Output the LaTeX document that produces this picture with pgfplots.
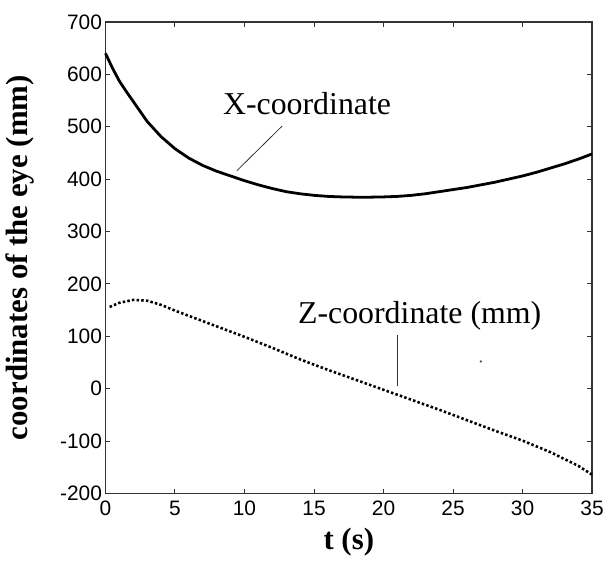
\documentclass[border=0pt]{standalone}
\usepackage{fontspec}
\setmainfont{Liberation Serif}
\newfontfamily\ticksans{Liberation Sans}
\usepackage{pgfplots}
\pgfplotsset{compat=1.18}
\begin{document}
\begin{tikzpicture}
\begin{axis}[
  scale only axis, width=489pt, height=474pt,
  xmin=0, xmax=35, ymin=-200, ymax=700,
  xtick={0,5,...,35}, ytick={-200,-100,...,700},
  tick align=inside, major tick length=5pt,
  axis line style={line width=1.3pt, black!80},
  every tick/.style={black!80, line width=1pt},
  tick label style={font=\fontsize{21}{21}\ticksans},
  /pgf/number format/assume math mode=true,
  xticklabel style={yshift=-4pt},
  xlabel={\textbf{t (s)}}, ylabel={\textbf{coordinates of the eye (mm)}},
  label style={font=\fontsize{31}{31}\selectfont, inner sep=0pt},
  xlabel style={at={(axis description cs:0.5,0)}, anchor=center, yshift=-49pt},
  ylabel style={at={(axis description cs:-0.176,0.5)}, anchor=center},
  clip=false,
]
\addplot[black, line width=2.8pt, line join=round] coordinates {
(0,640) (0.5,612) (1,587) (1.5,567) (2,548) (3,510) (4,481) (5,458) (6,440)
(7,426) (8,415) (9,406) (10,397) (11,389) (12,382) (13,376) (14,372) (15,369)
(16,367) (17,366) (18,365.5) (19,365.5) (20,366) (21,367) (22,369) (23,372)
(24,376) (25,380) (26,384) (27,389) (28,394) (29,400) (30,406) (31,413)
(32,421) (33,429) (34,438) (35,448)};
\addplot[black, line width=2.6pt, dash pattern=on 2.5pt off 2.2pt] coordinates {
(0.3,156) (1,164) (2,169.5) (3,168) (4,160) (5,149) (6,139) (7,129) (8,119)
(9,109) (10,99) (12,78) (14,56) (15,46) (16,36) (18,17) (20,-2) (22,-21)
(24,-40) (26,-60) (28,-80) (30,-99) (32,-121) (34,-147) (35,-164)};
\addplot[only marks, mark=*, mark size=0.9pt, black!70] coordinates {(27,52)};
\node[font=\fontsize{32}{32}\selectfont, inner sep=0pt] at (axis cs:14.5,545) {X-coordinate};
\draw[black!80, line width=0.8pt] (axis cs:12.7,501) -- (axis cs:9.45,416);
\node[font=\fontsize{32}{32}\selectfont, inner sep=0pt] at (axis cs:22.6,140) {Z-coordinate (mm)};
\draw[black!80, line width=1pt] (axis cs:21,102) -- (axis cs:21,5);
\end{axis}
\path ([shift={(-106pt,-68pt)}]current axis.south west) rectangle ([shift={(12pt,22pt)}]current axis.north east);
\end{tikzpicture}
\end{document}
